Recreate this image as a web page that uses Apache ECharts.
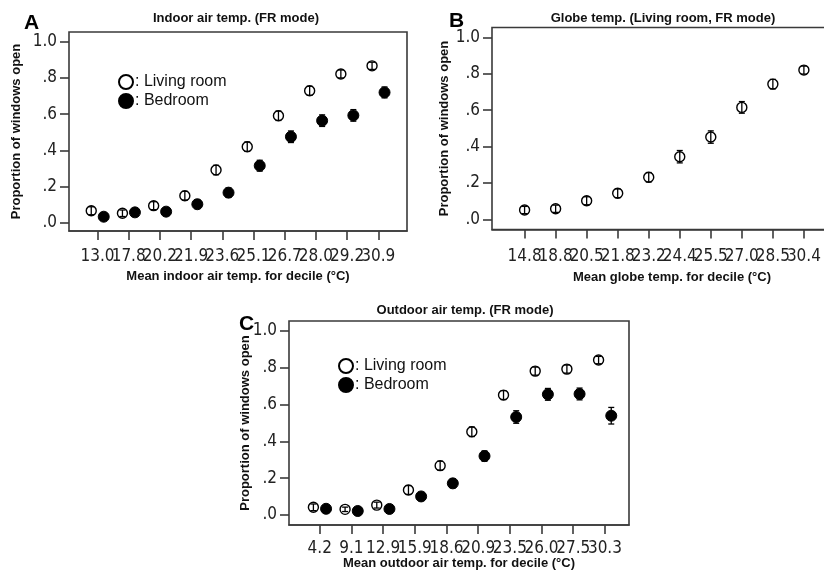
<!DOCTYPE html>
<html><head><meta charset="utf-8">
<script src="https://cdn.jsdelivr.net/npm/echarts@6/dist/echarts.min.js"></script>
<style>html,body{margin:0;padding:0;background:#fff}#c{width:824px;height:574px}</style>
</head><body><div id="c"></div>
<script>
// ---- data ----
const indoorCats = ['13.0','17.8','20.2','21.9','23.6','25.1','26.7','28.0','29.2','30.9'];
const indoorLiving = [0.066,0.052,0.094,0.149,0.291,0.420,0.591,0.729,0.822,0.867];
const indoorLivingErr = [0.022,0.018,0.022,0.024,0.026,0.026,0.026,0.025,0.022,0.02];
const indoorBedroom = [0.033,0.057,0.061,0.102,0.166,0.315,0.475,0.564,0.593,0.720];
const indoorBedroomErr = [0.02,0.02,0.02,0.024,0.026,0.03,0.032,0.032,0.032,0.03];

const globeCats = ['14.8','18.8','20.5','21.8','23.2','24.4','25.5','27.0','28.5','30.4'];
const globeLiving = [0.051,0.058,0.102,0.143,0.231,0.344,0.452,0.615,0.743,0.820];
const globeLivingErr = [0.02,0.02,0.022,0.024,0.026,0.034,0.034,0.032,0.026,0.022];

const outdoorCats = ['4.2','9.1','12.9','15.9','18.6','20.9','23.5','26.0','27.5','30.3'];
const outdoorLiving = [0.042,0.031,0.054,0.136,0.268,0.452,0.651,0.781,0.792,0.841];
const outdoorLivingErr = [0.018,0.012,0.016,0.024,0.024,0.026,0.024,0.022,0.022,0.02];
const outdoorBedroom = [0.034,0.022,0.033,0.101,0.172,0.320,0.532,0.655,0.657,0.539];
const outdoorBedroomErr = [0.016,0.016,0.016,0.022,0.024,0.028,0.034,0.032,0.032,0.045];

const yTickValues = [0, 0.2, 0.4, 0.6, 0.8, 1.0];
const yTickLabels = ['.0', '.2', '.4', '.6', '.8', '1.0'];
const catIdx = indoorCats.map((_, i) => i);

// ---- helpers ----
const NARROW = "'Liberation Sans Narrow', 'DejaVu Sans Condensed', 'Liberation Sans', Arial, sans-serif";
const SANS = "'Liberation Sans', Arial, sans-serif";
const FRAME = '#3a3a3a';

function xAxisFor(gi, cats, min, max, guardMax, name, gap, margin) {
  // blank guard labels at the axis ends keep every category label visible
  const labelVals = [min].concat(catIdx, [guardMax]);
  return {
    type: 'value', gridIndex: gi, min: min, max: max, position: 'bottom',
    axisLine: {show: true, onZero: false, lineStyle: {color: FRAME, width: 1.6}}, splitLine: {show: false},
    axisTick: {show: true, inside: false, customValues: catIdx, length: 9, lineStyle: {color: FRAME, width: 1.6}},
    axisLabel: {customValues: labelVals,
      formatter: v => (Number.isInteger(v) && cats[v] !== undefined) ? cats[v] : ' ',
      margin: margin, hideOverlap: false,
      fontFamily: NARROW, fontSize: 17, color: '#222'},
    name: name, nameLocation: 'middle', nameGap: gap, nameMoveOverlap: false,
    nameTextStyle: {fontFamily: SANS, fontWeight: 'bold', fontSize: 13, color: '#111'}
  };
}
function yAxisFor(gi, min, max, gap) {
  return {
    type: 'value', gridIndex: gi, min: min, max: max, position: 'left',
    axisLine: {show: false, onZero: false}, splitLine: {show: false},
    axisTick: {show: true, customValues: yTickValues, length: 9, lineStyle: {color: FRAME, width: 1.6}},
    axisLabel: {customValues: yTickValues, formatter: v => yTickLabels[Math.round(v * 5)], margin: 12,
      showMinLabel: true, showMaxLabel: true,
      fontFamily: NARROW, fontSize: 17, color: '#222'},
    name: 'Proportion of windows open', nameLocation: 'middle', nameGap: gap, nameRotate: 90,
    nameMoveOverlap: false,
    nameTextStyle: {fontFamily: SANS, fontWeight: 'bold', fontSize: 13, color: '#111'}
  };
}
function pts(vals, errs, off) { return vals.map((v, i) => [i + off, v, errs[i]]); }

function scatter(name, gi, data, filled) {
  return {
    type: 'scatter', name: name, xAxisIndex: gi, yAxisIndex: gi, z: 2,
    symbol: 'circle', symbolSize: filled ? 11 : 10,
    itemStyle: filled ? {color: '#000', borderColor: '#000', borderWidth: 1, opacity: 1}
                      : {color: '#fff', borderColor: '#000', borderWidth: 1.4, opacity: 1},
    data: data, silent: true
  };
}
function errbar(gi, data) {
  return {
    type: 'custom', xAxisIndex: gi, yAxisIndex: gi, z: 3, silent: true,
    renderItem: function (params, api) {
      const x = api.value(0), y = api.value(1), e = api.value(2);
      const t = api.coord([x, y + e]), b = api.coord([x, y - e]);
      const cw = 3;
      const st = {stroke: '#000', lineWidth: 1.3};
      return {type: 'group', children: [
        {type: 'line', shape: {x1: t[0], y1: t[1], x2: b[0], y2: b[1]}, style: st},
        {type: 'line', shape: {x1: t[0] - cw, y1: t[1], x2: t[0] + cw, y2: t[1]}, style: st},
        {type: 'line', shape: {x1: b[0] - cw, y1: b[1], x2: b[0] + cw, y2: b[1]}, style: st}
      ]};
    },
    data: data
  };
}

const gridStyle = {show: true, borderColor: FRAME, borderWidth: 1.6, containLabel: false, outerBoundsMode: 'none'};
const legendStyle = {
  orient: 'vertical', icon: 'circle', itemWidth: 14, itemHeight: 14, itemGap: 3,
  selectedMode: false, formatter: n => ': ' + n,
  textStyle: {fontFamily: SANS, fontSize: 16, color: '#111', padding: [0, 0, 0, -3]},
  data: ['Living room', 'Bedroom']
};
const titleStyle = {fontFamily: SANS, fontWeight: 'bold', fontSize: 13, color: '#111'};

const option = {
  animation: false,
  backgroundColor: '#fff',
  title: [
    {text: 'Indoor air temp. (FR mode)', left: 231, top: 7, textAlign: 'center', textStyle: titleStyle},
    {text: 'Globe temp. (Living room, FR mode)', left: 658, top: 7, textAlign: 'center', textStyle: titleStyle},
    {text: 'Outdoor air temp. (FR mode)', left: 460, top: 299, textAlign: 'center', textStyle: titleStyle}
  ],
  graphic: [
    {type: 'text', left: 24, top: 13, style: {text: 'A', font: "bold 21px 'Liberation Sans', Arial", fill: '#000'}},
    {type: 'text', left: 449, top: 11, style: {text: 'B', font: "bold 21px 'Liberation Sans', Arial", fill: '#000'}},
    {type: 'text', left: 239, top: 314, style: {text: 'C', font: "bold 21px 'Liberation Sans', Arial", fill: '#000'}}
  ],
  legend: [
    Object.assign({left: 113, top: 69}, legendStyle),
    Object.assign({left: 333, top: 353}, legendStyle)
  ],
  grid: [
    Object.assign({left: 69, top: 32, width: 338, height: 199}, gridStyle),
    Object.assign({left: 492, top: 27.5, width: 360, height: 202}, gridStyle),
    Object.assign({left: 289, top: 321, width: 340, height: 204}, gridStyle)
  ],
  xAxis: [
    xAxisFor(0, indoorCats, -0.913, 9.92, 9.92, 'Mean indoor air temp. for decile (°C)', 38.5, 17),
    xAxisFor(1, globeCats, -1.05, 10.55, 9.5, 'Mean globe temp. for decile (°C)', 41, 19),
    xAxisFor(2, outdoorCats, -0.97, 9.76, 9.76, 'Mean outdoor air temp. for decile (°C)', 31.5, 15)
  ],
  yAxis: [
    yAxisFor(0, -0.046, 1.054, 46),
    yAxisFor(1, -0.056, 1.054, 41),
    yAxisFor(2, -0.054, 1.053, 37)
  ],
  series: [
    scatter('Living room', 0, pts(indoorLiving, indoorLivingErr, -0.2), false),
    errbar(0, pts(indoorLiving, indoorLivingErr, -0.2)),
    scatter('Bedroom', 0, pts(indoorBedroom, indoorBedroomErr, 0.2), true),
    errbar(0, pts(indoorBedroom, indoorBedroomErr, 0.2)),
    scatter('Living room (globe)', 1, pts(globeLiving, globeLivingErr, 0), false),
    errbar(1, pts(globeLiving, globeLivingErr, 0)),
    scatter('Living room', 2, pts(outdoorLiving, outdoorLivingErr, -0.2), false),
    errbar(2, pts(outdoorLiving, outdoorLivingErr, -0.2)),
    scatter('Bedroom', 2, pts(outdoorBedroom, outdoorBedroomErr, 0.2), true),
    errbar(2, pts(outdoorBedroom, outdoorBedroomErr, 0.2))
  ]
};
const chart = echarts.init(document.getElementById('c'), null, {renderer: 'canvas'});
chart.setOption(option);
</script>
</body></html>
